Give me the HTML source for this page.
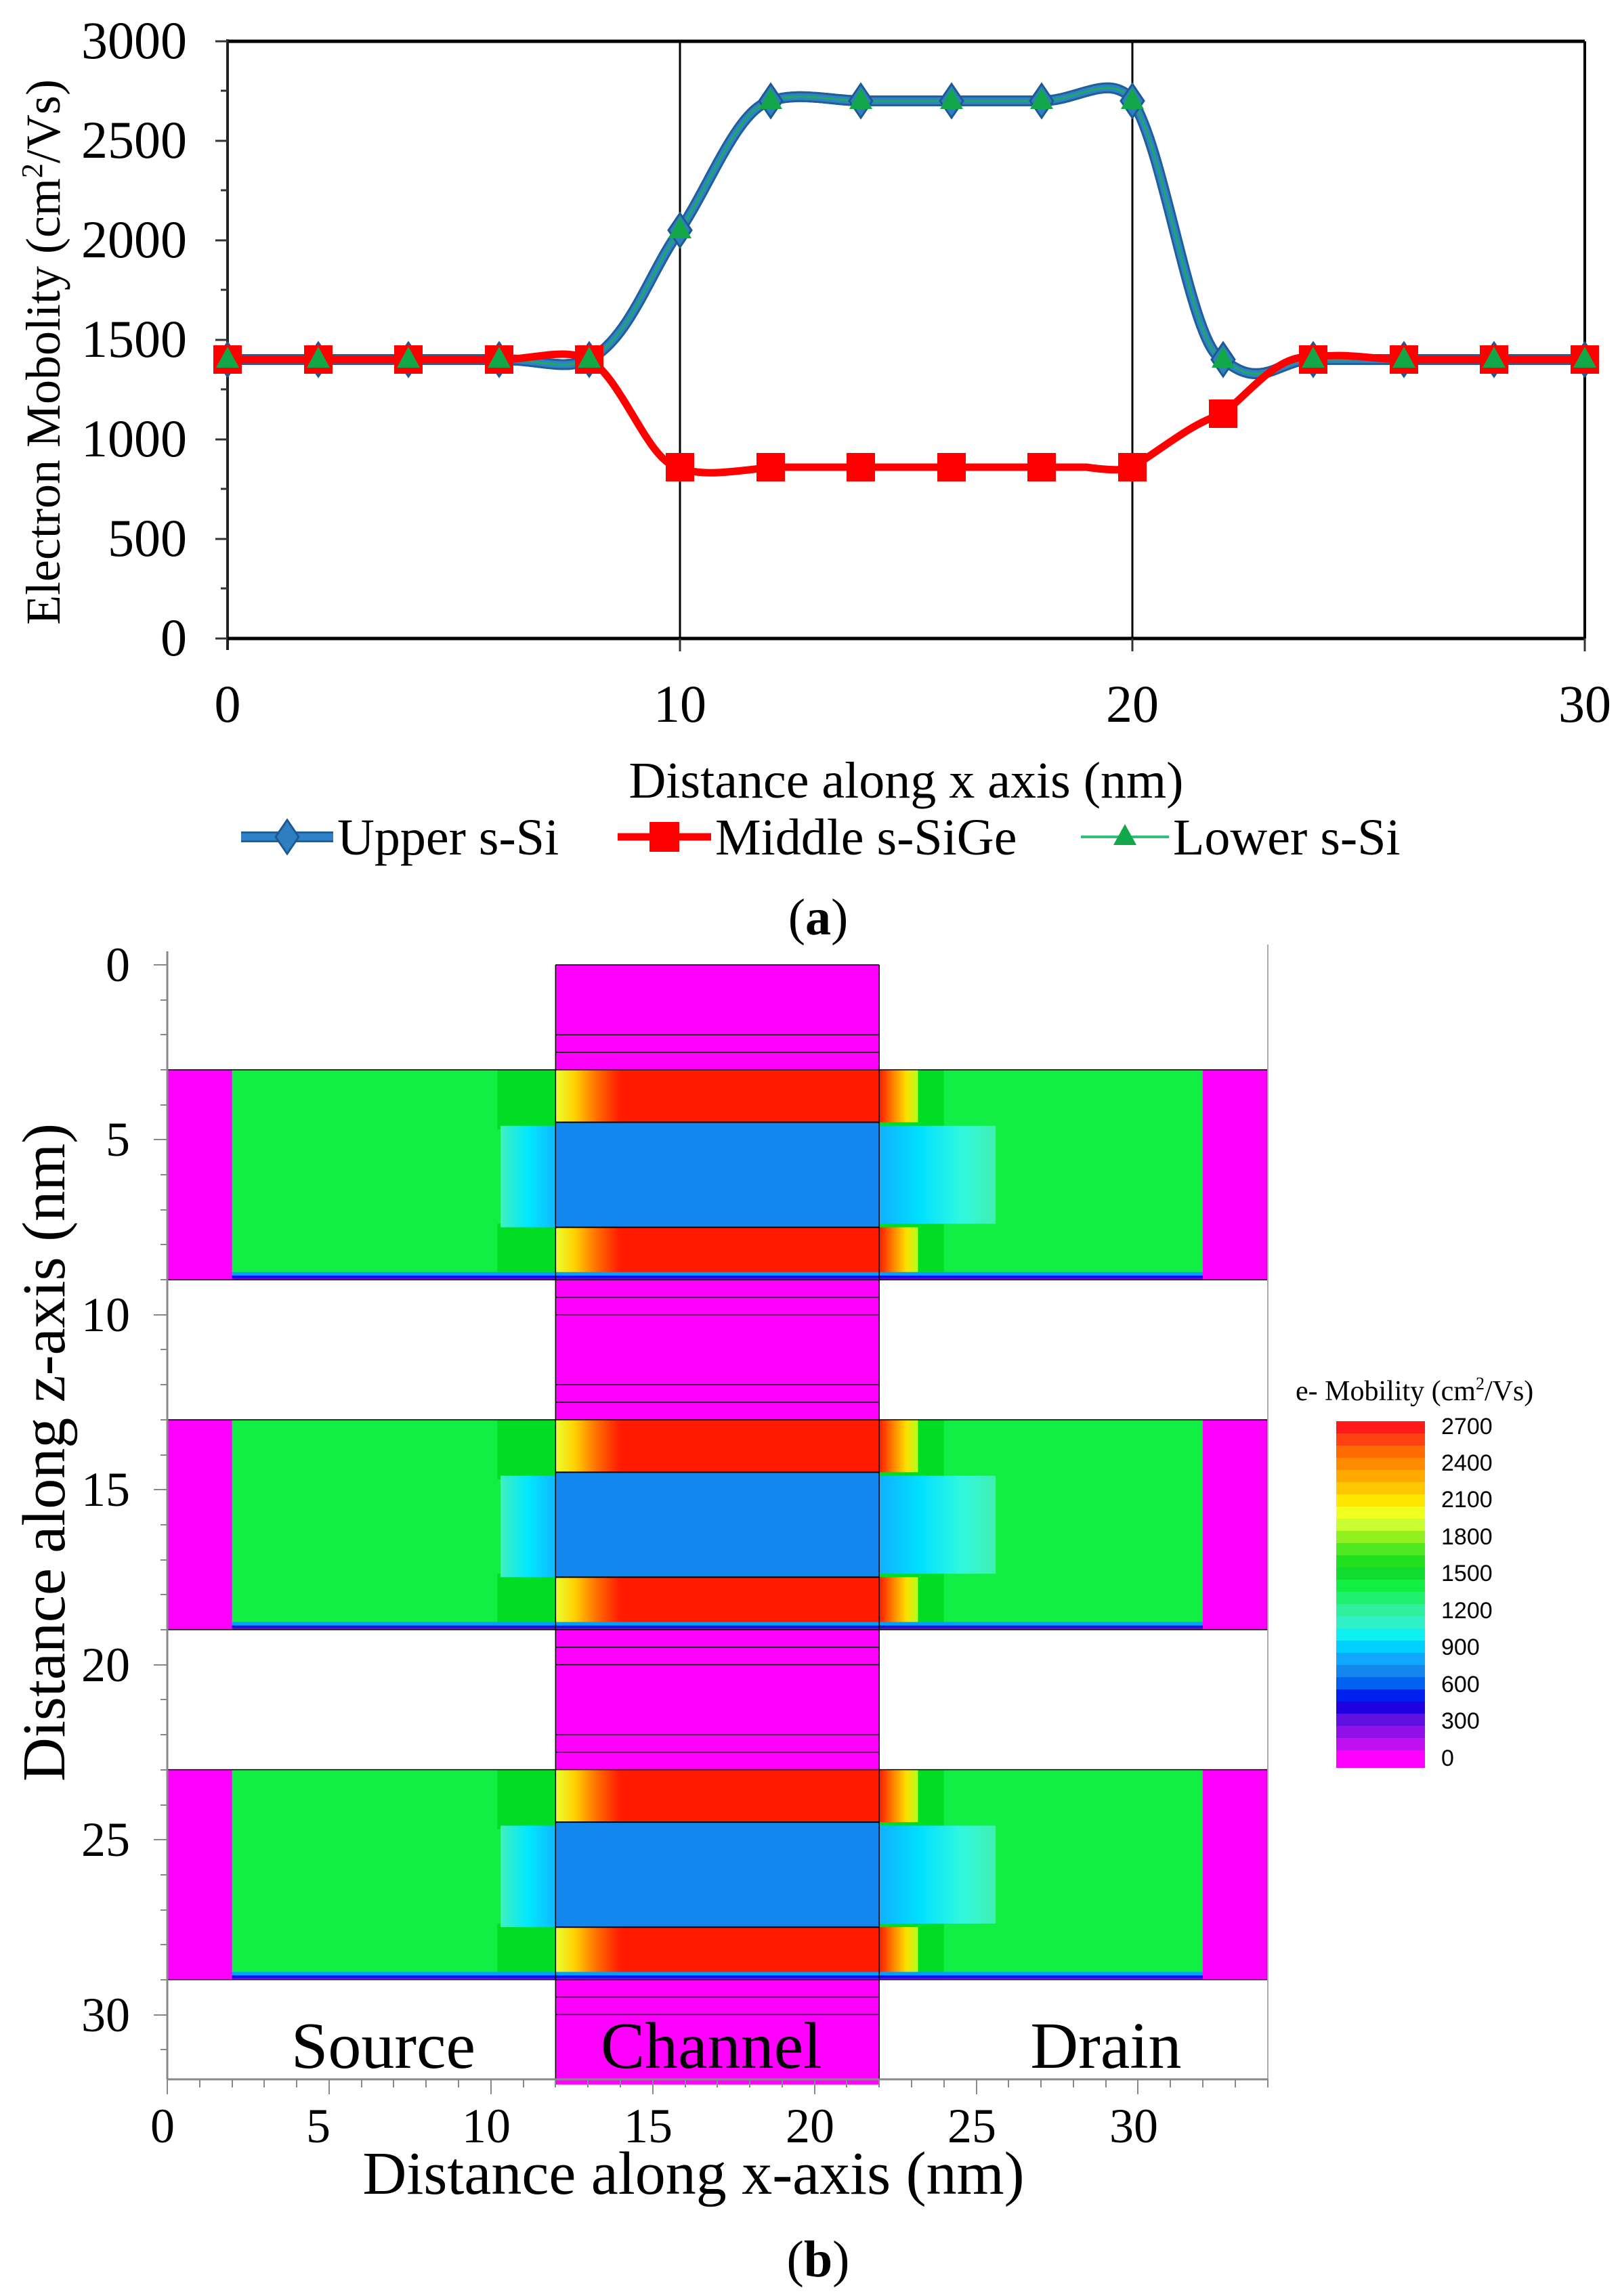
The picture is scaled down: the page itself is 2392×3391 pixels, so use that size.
<!DOCTYPE html>
<html><head><meta charset="utf-8"><style>html,body{margin:0;padding:0;background:#fff}svg{display:block}text{font-family:"Liberation Serif",serif;fill:#000}</style></head><body>
<svg width="2392" height="3391" viewBox="0 0 2392 3391" xmlns="http://www.w3.org/2000/svg">
<defs>
<linearGradient id="rl" x1="0" x2="1" y1="0" y2="0"><stop offset="0" stop-color="#e8ff30"/><stop offset="0.3" stop-color="#ffd000"/><stop offset="0.65" stop-color="#ff6a00"/><stop offset="1" stop-color="#ff1a00"/></linearGradient>
<linearGradient id="rr" x1="0" x2="1" y1="0" y2="0"><stop offset="0" stop-color="#ff1a00"/><stop offset="0.35" stop-color="#ff8000"/><stop offset="0.7" stop-color="#ffe000"/><stop offset="1" stop-color="#b0ff20"/></linearGradient>
<linearGradient id="cl" x1="0" x2="1" y1="0" y2="0"><stop offset="0" stop-color="#40f0c0"/><stop offset="0.5" stop-color="#00e8ff"/><stop offset="1" stop-color="#10b8ff"/></linearGradient>
<linearGradient id="cr" x1="0" x2="1" y1="0" y2="0"><stop offset="0" stop-color="#10b0ff"/><stop offset="0.35" stop-color="#00e0ff"/><stop offset="0.7" stop-color="#30f8e0"/><stop offset="1" stop-color="#40f0b0"/></linearGradient>
<path id="dia" d="M0,-25 L17,0 L0,25 L-17,0Z" fill="#2f7fc0" stroke="#1d5a95" stroke-width="3"/>
<path id="tri" d="M0,-19 L17,12 L-17,12Z" fill="#12a84a"/>
<rect id="sq" x="-21" y="-21" width="42" height="42" fill="#ff0000"/>
<g id="slab">
<rect x="0" y="0" width="34" height="6" fill="#11ee44"/>
<rect x="0" y="0" width="2" height="6" fill="#ff00ff"/>
<rect x="32" y="0" width="2" height="6" fill="#ff00ff"/>
<rect x="10.2" y="0" width="1.8" height="1.7" fill="#00dd22"/>
<rect x="10.2" y="4.4" width="1.8" height="1.6" fill="#00dd22"/>
<rect x="22" y="0" width="2" height="1.7" fill="#00dd22"/>
<rect x="22" y="4.4" width="2" height="1.6" fill="#00dd22"/>
<rect x="10.3" y="1.6" width="1.7" height="2.9" fill="url(#cl)"/>
<rect x="22" y="1.6" width="3.6" height="2.8" fill="url(#cr)"/>
<rect x="12" y="0" width="2" height="1.5" fill="url(#rl)"/>
<rect x="14" y="0" width="8" height="1.5" fill="#ff1a00"/>
<rect x="22" y="0" width="1.2" height="1.5" fill="url(#rr)"/>
<rect x="12" y="1.5" width="10" height="3" fill="#1487ee"/>
<rect x="12" y="4.5" width="2" height="1.3" fill="url(#rl)"/>
<rect x="14" y="4.5" width="8" height="1.3" fill="#ff1a00"/>
<rect x="22" y="4.5" width="1.2" height="1.3" fill="url(#rr)"/>
<rect x="2" y="5.78" width="30" height="0.1" fill="#00a0ff"/>
<rect x="2" y="5.88" width="30" height="0.07" fill="#0010ee"/>
<rect x="2" y="5.95" width="30" height="0.05" fill="#8000e0"/>
<line x1="12" y1="1.5" x2="22" y2="1.5" stroke="#000" stroke-width="2" vector-effect="non-scaling-stroke"/>
<line x1="12" y1="4.5" x2="22" y2="4.5" stroke="#000" stroke-width="2" vector-effect="non-scaling-stroke"/>
<rect x="0" y="0" width="34" height="6" fill="none" stroke="#000" stroke-width="1.5" vector-effect="non-scaling-stroke"/>
</g>
</defs>

<!-- Panel (a) -->
<line x1="1004" y1="61" x2="1004" y2="943" stroke="#000" stroke-width="3"/>
<line x1="1672" y1="61" x2="1672" y2="943" stroke="#000" stroke-width="3"/>
<line x1="2340" y1="61" x2="2340" y2="943" stroke="#000" stroke-width="4"/>
<line x1="336" y1="61" x2="2340" y2="61" stroke="#000" stroke-width="5"/>
<line x1="336" y1="58" x2="336" y2="960" stroke="#222" stroke-width="4"/>
<line x1="336" y1="943" x2="2340" y2="943" stroke="#000" stroke-width="5"/>
<g stroke="#333" stroke-width="3">
<line x1="318" y1="61" x2="336" y2="61"/><line x1="326" y1="134" x2="336" y2="134"/>
<line x1="318" y1="208" x2="336" y2="208"/><line x1="326" y1="281" x2="336" y2="281"/>
<line x1="318" y1="355" x2="336" y2="355"/><line x1="326" y1="428" x2="336" y2="428"/>
<line x1="318" y1="502" x2="336" y2="502"/><line x1="326" y1="575" x2="336" y2="575"/>
<line x1="318" y1="649" x2="336" y2="649"/><line x1="326" y1="722" x2="336" y2="722"/>
<line x1="318" y1="796" x2="336" y2="796"/><line x1="326" y1="869" x2="336" y2="869"/>
<line x1="318" y1="943" x2="336" y2="943"/>
<line x1="1004" y1="943" x2="1004" y2="962"/><line x1="1672" y1="943" x2="1672" y2="962"/><line x1="2340" y1="943" x2="2340" y2="962"/>
</g>
<g font-size="78" text-anchor="end">
<text x="276" y="86">3000</text><text x="276" y="233">2500</text><text x="276" y="380">2000</text>
<text x="276" y="527">1500</text><text x="276" y="674">1000</text><text x="276" y="821">500</text><text x="276" y="968">0</text>
</g>
<g font-size="78" text-anchor="middle">
<text x="336" y="1066">0</text><text x="1004" y="1066">10</text><text x="1672" y="1066">20</text><text x="2340" y="1066">30</text>
</g>
<text x="1338" y="1178" font-size="76" text-anchor="middle">Distance along x axis (nm)</text>
<text transform="translate(88,520) rotate(-90)" font-size="72" text-anchor="middle">Electron Mobolity (cm<tspan font-size="44" dy="-26">2</tspan><tspan dy="26">/Vs)</tspan></text>

<path id="up" d="M336,531 L737,531 C800,531 830,548 870,531 C930,500 960,400 1004,340 C1050,270 1090,160 1138,149 C1180,135 1230,149 1271,149 L1538,149 C1580,149 1620,122 1650,132 C1668,138 1672,149 1672,149 C1720,220 1760,520 1806,531 C1830,550 1850,558 1880,547 C1910,535 1920,531 1939,531 L2340,531" fill="none" stroke="#1f5f9a" stroke-width="16"/>
<use href="#up" style="stroke:#2f82c8" stroke-width="10"/>
<path d="M336,531 L737,531 C800,531 830,548 870,531 C930,500 960,400 1004,340 C1050,270 1090,160 1138,149 C1180,135 1230,149 1271,149 L1538,149 C1580,149 1620,122 1650,132 C1668,138 1672,149 1672,149 C1720,220 1760,520 1806,531 C1830,550 1850,558 1880,547 C1910,535 1920,531 1939,531 L2340,531" fill="none" stroke="#2f82c8" stroke-width="10"/>
<path d="M336,531 L737,531 C800,531 830,548 870,531 C930,500 960,400 1004,340 C1050,270 1090,160 1138,149 C1180,135 1230,149 1271,149 L1538,149 C1580,149 1620,122 1650,132 C1668,138 1672,149 1672,149 C1720,220 1760,520 1806,531 C1830,550 1850,558 1880,547 C1910,535 1920,531 1939,531 L2340,531" fill="none" stroke="#20a860" stroke-width="3"/>
<path d="M336,531 L737,531 C790,531 830,513 870,531 C920,560 960,690 1004,690 C1030,702 1060,700 1138,690 L1604,690 C1640,695 1660,695 1672,690 C1720,660 1760,625 1806,611 C1850,575 1890,520 1939,528 C1980,520 2030,531 2073,531 L2340,531" fill="none" stroke="#ff0000" stroke-width="11"/>
<g>
<use href="#dia" x="336" y="531"/><use href="#dia" x="470" y="531"/><use href="#dia" x="603" y="531"/><use href="#dia" x="737" y="531"/><use href="#dia" x="870" y="531"/>
<use href="#dia" x="1004" y="340"/><use href="#dia" x="1138" y="149"/><use href="#dia" x="1271" y="149"/><use href="#dia" x="1405" y="149"/><use href="#dia" x="1538" y="149"/><use href="#dia" x="1672" y="149"/>
<use href="#dia" x="1806" y="531"/><use href="#dia" x="1939" y="531"/><use href="#dia" x="2073" y="531"/><use href="#dia" x="2206" y="531"/><use href="#dia" x="2340" y="531"/>
</g>
<g>
<use href="#sq" x="336" y="531"/><use href="#sq" x="470" y="531"/><use href="#sq" x="603" y="531"/><use href="#sq" x="737" y="531"/><use href="#sq" x="870" y="531"/>
<use href="#sq" x="1004" y="690"/><use href="#sq" x="1138" y="690"/><use href="#sq" x="1271" y="690"/><use href="#sq" x="1405" y="690"/><use href="#sq" x="1538" y="690"/><use href="#sq" x="1672" y="690"/>
<use href="#sq" x="1806" y="611"/><use href="#sq" x="1939" y="531"/><use href="#sq" x="2073" y="531"/><use href="#sq" x="2206" y="531"/><use href="#sq" x="2340" y="531"/>
</g>
<g>
<use href="#tri" x="336" y="531"/><use href="#tri" x="470" y="531"/><use href="#tri" x="603" y="531"/><use href="#tri" x="737" y="531"/><use href="#tri" x="870" y="531"/>
<use href="#tri" x="1004" y="340"/><use href="#tri" x="1138" y="149"/><use href="#tri" x="1271" y="149"/><use href="#tri" x="1405" y="149"/><use href="#tri" x="1538" y="149"/><use href="#tri" x="1672" y="149"/>
<use href="#tri" x="1806" y="531"/><use href="#tri" x="1939" y="531"/><use href="#tri" x="2073" y="531"/><use href="#tri" x="2206" y="531"/><use href="#tri" x="2340" y="531"/>
</g>
<!-- legend -->
<line x1="356" y1="1236" x2="492" y2="1236" stroke="#1f5f9a" stroke-width="16"/>
<line x1="356" y1="1236" x2="492" y2="1236" stroke="#2f82c8" stroke-width="10"/>
<use href="#dia" x="424" y="1236"/>
<text x="498" y="1262" font-size="76">Upper s-Si</text>
<line x1="912" y1="1236" x2="1050" y2="1236" stroke="#ff0000" stroke-width="11"/>
<rect x="959" y="1214" width="44" height="44" fill="#ff0000"/>
<text x="1056" y="1262" font-size="76">Middle s-SiGe</text>
<line x1="1596" y1="1236" x2="1726" y2="1236" stroke="#2fc07a" stroke-width="4"/>
<use href="#tri" x="1661" y="1236"/>
<text x="1732" y="1262" font-size="76">Lower s-Si</text>
<text x="1208" y="1380" font-size="76" text-anchor="middle">(<tspan font-weight="bold">a</tspan>)</text>

<!-- Panel (b) -->
<g transform="translate(247,1425) scale(47.78,51.68)">
<rect x="12" y="0" width="10" height="32" fill="#ff00ff"/>
<use href="#slab" y="3"/>
<use href="#slab" y="13"/>
<use href="#slab" y="23"/>
<g stroke="#000" stroke-width="1.5" fill="none">
<path d="M12,2H22M12,2.5H22M12,9.5H22M12,10H22M12,12H22M12,12.5H22M12,19.5H22M12,20H22M12,22H22M12,22.5H22M12,29.5H22M12,30H22" vector-effect="non-scaling-stroke"/>
<path d="M12,0V32M22,0V32M12,0H22" vector-effect="non-scaling-stroke"/>
</g>
</g>
<line x1="1872" y1="1395" x2="1872" y2="3071" stroke="#aaa" stroke-width="2"/>
<line x1="247" y1="1405" x2="247" y2="3071" stroke="#888" stroke-width="3"/>
<line x1="247" y1="3071" x2="1872" y2="3071" stroke="#888" stroke-width="3"/>
<g stroke="#888" stroke-width="2">
<path d="M227,1425H247M237,1477H247M237,1528H247M237,1580H247M237,1632H247M227,1683H247M237,1735H247M237,1787H247M237,1838H247M237,1890H247M227,1942H247M237,1993H247M237,2045H247M237,2097H247M237,2149H247M227,2200H247M237,2252H247M237,2304H247M237,2355H247M237,2407H247M227,2459H247M237,2510H247M237,2562H247M237,2614H247M237,2666H247M227,2717H247M237,2769H247M237,2821H247M237,2872H247M237,2924H247M227,2976H247M237,3027H247"/>
<path d="M247,3071v22M295,3071v12M343,3071v12M390,3071v12M438,3071v12M486,3071v22M534,3071v12M581,3071v12M629,3071v12M677,3071v12M725,3071v22M773,3071v12M820,3071v12M868,3071v12M916,3071v12M964,3071v22M1012,3071v12M1059,3071v12M1107,3071v12M1155,3071v12M1203,3071v22M1250,3071v12M1298,3071v12M1346,3071v12M1394,3071v12M1442,3071v22M1489,3071v12M1537,3071v12M1585,3071v12M1633,3071v12M1680,3071v22M1728,3071v12M1776,3071v12M1824,3071v12M1872,3071v12"/>
</g>
<g font-size="72" text-anchor="end">
<text x="192" y="1449">0</text><text x="192" y="1707">5</text><text x="192" y="1966">10</text>
<text x="192" y="2224">15</text><text x="192" y="2483">20</text><text x="192" y="2741">25</text><text x="192" y="3000">30</text>
</g>
<g font-size="72" text-anchor="middle">
<text x="240" y="3164">0</text><text x="470" y="3164">5</text><text x="718" y="3164">10</text>
<text x="957" y="3164">15</text><text x="1196" y="3164">20</text><text x="1435" y="3164">25</text><text x="1674" y="3164">30</text>
</g>
<text x="1024" y="3240" font-size="90" text-anchor="middle">Distance along x-axis (nm)</text>
<text transform="translate(95,2145) rotate(-90)" font-size="90" text-anchor="middle">Distance along z-axis (nm)</text>
<g font-size="98" text-anchor="middle">
<text x="566" y="3054">Source</text><text x="1050" y="3054">Channel</text><text x="1633" y="3054">Drain</text>
</g>
<text x="1208" y="3362" font-size="76" text-anchor="middle">(<tspan font-weight="bold">b</tspan>)</text>

<!-- colorbar -->
<text x="1913" y="2068" font-size="42">e- Mobility (cm<tspan font-size="26" dy="-16">2</tspan><tspan dy="16">/Vs)</tspan></text>
<g>
<rect x="1973" y="2099" width="131" height="19" fill="#ff1a1a"/>
<rect x="1973" y="2117" width="131" height="19" fill="#ff4010"/>
<rect x="1973" y="2135" width="131" height="19" fill="#ff6a00"/>
<rect x="1973" y="2153" width="131" height="19" fill="#ff8c00"/>
<rect x="1973" y="2171" width="131" height="19" fill="#ffaa00"/>
<rect x="1973" y="2189" width="131" height="19" fill="#ffc800"/>
<rect x="1973" y="2207" width="131" height="19" fill="#ffe600"/>
<rect x="1973" y="2225" width="131" height="19" fill="#f0ff20"/>
<rect x="1973" y="2243" width="131" height="19" fill="#c8ff30"/>
<rect x="1973" y="2261" width="131" height="19" fill="#90f020"/>
<rect x="1973" y="2279" width="131" height="19" fill="#50e820"/>
<rect x="1973" y="2297" width="131" height="19" fill="#20e020"/>
<rect x="1973" y="2315" width="131" height="19" fill="#10dd30"/>
<rect x="1973" y="2333" width="131" height="19" fill="#11ee44"/>
<rect x="1973" y="2351" width="131" height="19" fill="#20f070"/>
<rect x="1973" y="2369" width="131" height="19" fill="#30f0a0"/>
<rect x="1973" y="2387" width="131" height="19" fill="#30f0c8"/>
<rect x="1973" y="2405" width="131" height="19" fill="#10f0f0"/>
<rect x="1973" y="2423" width="131" height="19" fill="#00d0ff"/>
<rect x="1973" y="2441" width="131" height="19" fill="#10a8ff"/>
<rect x="1973" y="2459" width="131" height="19" fill="#1487ee"/>
<rect x="1973" y="2477" width="131" height="19" fill="#0060f0"/>
<rect x="1973" y="2495" width="131" height="19" fill="#0020f0"/>
<rect x="1973" y="2513" width="131" height="19" fill="#2000e0"/>
<rect x="1973" y="2531" width="131" height="19" fill="#6010e0"/>
<rect x="1973" y="2549" width="131" height="19" fill="#9010e8"/>
<rect x="1973" y="2567" width="131" height="19" fill="#c010f0"/>
<rect x="1973" y="2585" width="131" height="26" fill="#ff00ff"/>
</g>
<g font-size="34" style="font-family:'Liberation Sans',sans-serif">
<text x="2128" y="2118" style="font-family:'Liberation Sans',sans-serif">2700</text>
<text x="2128" y="2172" style="font-family:'Liberation Sans',sans-serif">2400</text>
<text x="2128" y="2226" style="font-family:'Liberation Sans',sans-serif">2100</text>
<text x="2128" y="2281" style="font-family:'Liberation Sans',sans-serif">1800</text>
<text x="2128" y="2335" style="font-family:'Liberation Sans',sans-serif">1500</text>
<text x="2128" y="2390" style="font-family:'Liberation Sans',sans-serif">1200</text>
<text x="2128" y="2444" style="font-family:'Liberation Sans',sans-serif">900</text>
<text x="2128" y="2499" style="font-family:'Liberation Sans',sans-serif">600</text>
<text x="2128" y="2553" style="font-family:'Liberation Sans',sans-serif">300</text>
<text x="2128" y="2608" style="font-family:'Liberation Sans',sans-serif">0</text>
</g>
</svg>
</body></html>
